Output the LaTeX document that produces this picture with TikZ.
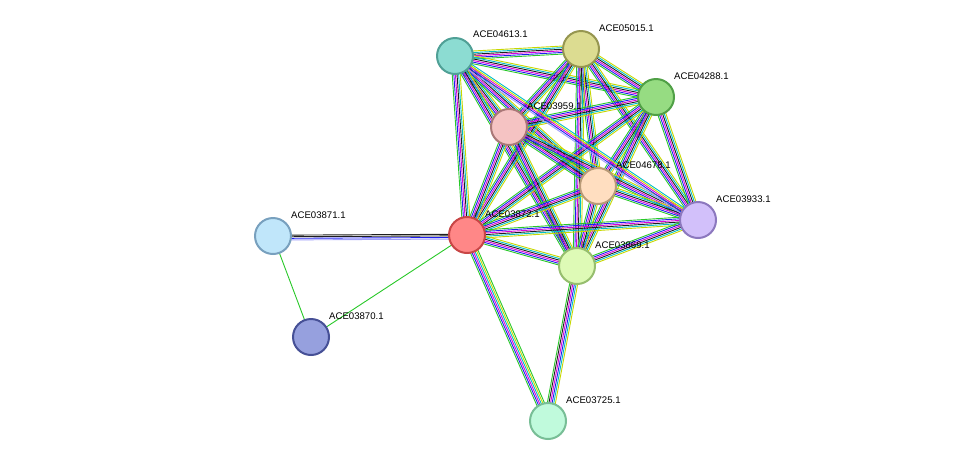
\documentclass[tikz,border=0pt]{standalone}
\usepackage{fontspec}
\setmainfont{Liberation Sans}
\usetikzlibrary{calc}
\definecolor{cNb}{RGB}{40,200,40}
\definecolor{cCo}{RGB}{30,30,240}
\definecolor{cEx}{RGB}{220,0,220}
\definecolor{cDb}{RGB}{0,190,200}
\definecolor{cTm}{RGB}{200,215,0}
\definecolor{cHo}{RGB}{160,160,250}
\definecolor{cCx}{RGB}{30,30,30}
\tikzset{
 prot/.style={circle,minimum size=36pt,inner sep=0pt,line width=2pt},
 lab/.style={anchor=west,font=\fontsize{9.6}{11}\selectfont,inner sep=0pt},
 eline/.style={line width=0.9pt}
}
\newcommand\bund[3]{%
 \foreach \cc [count=\i] in #3{%
  \pgfmathsetmacro\off{(\i-3.5)*1.6}%
  \draw[eline,\cc] ($(#1)!\off pt!90:(#2)$) -- ($(#2)!\off pt!-90:(#1)$);
 }}
\begin{document}
\begin{tikzpicture}[x=1pt,y=-1pt]
\useasboundingbox (0,0) rectangle (976,467);
\coordinate (a) at (455,56);
\coordinate (b) at (581,49);
\coordinate (c) at (656,97);
\coordinate (d) at (509,127);
\coordinate (e) at (598,186);
\coordinate (f) at (698,220);
\coordinate (g) at (467,235);
\coordinate (h) at (577,266);
\coordinate (i) at (273,236);
\coordinate (j) at (311,337);
\coordinate (k) at (548,421);
\def\lfull{cNb,cCo,cEx,cCx,cDb,cTm}
\def\laf{cHo,cCo,cEx,cTm,cDb}
\def\lgk{cNb,cCo,cEx,cDb,cTm,cNb}
\def\lhk{cNb,cCx,cEx,cCo,cDb,cTm}
\def\lig{cHo,cCo,cCx,cCx}
\foreach \p/\q in {a/b,a/c,a/d,a/e,a/g,a/h,b/c,b/d,b/e,b/f,b/g,b/h,c/d,c/e,c/f,c/g,c/h,d/e,d/f,d/g,d/h,e/f,e/g,e/h,f/g,f/h,g/h}{\bund{\p}{\q}{\lfull}}
\bund{a}{f}{\laf}
\bund{g}{k}{\lgk}
\bund{h}{k}{\lhk}
\bund{i}{g}{\lig}
\draw[eline,cNb] (i) -- (j);
\draw[eline,cNb] (j) -- (g);
\node[prot,fill={rgb,255:red,140;green,220;blue,210},draw={rgb,255:red,80;green,160;blue,150}] (na) at (a) {};
\node[prot,fill={rgb,255:red,220;green,220;blue,145},draw={rgb,255:red,150;green,150;blue,80}] (nb) at (b) {};
\node[prot,fill={rgb,255:red,150;green,220;blue,130},draw={rgb,255:red,80;green,160;blue,70}] (nc) at (c) {};
\node[prot,fill={rgb,255:red,245;green,195;blue,195},draw={rgb,255:red,170;green,120;blue,120}] (nd) at (d) {};
\node[prot,fill={rgb,255:red,255;green,222;blue,192},draw={rgb,255:red,185;green,155;blue,120}] (ne) at (e) {};
\node[prot,fill={rgb,255:red,210;green,192;blue,250},draw={rgb,255:red,140;green,120;blue,190}] (nf) at (f) {};
\node[prot,fill={rgb,255:red,255;green,135;blue,135},draw={rgb,255:red,200;green,70;blue,70}] (ng) at (g) {};
\node[prot,fill={rgb,255:red,222;green,250;blue,182},draw={rgb,255:red,150;green,190;blue,110}] (nh) at (h) {};
\node[prot,fill={rgb,255:red,192;green,230;blue,250},draw={rgb,255:red,120;green,160;blue,190}] (ni) at (i) {};
\node[prot,fill={rgb,255:red,150;green,160;blue,222},draw={rgb,255:red,70;green,80;blue,150}] (nj) at (j) {};
\node[prot,fill={rgb,255:red,192;green,250;blue,220},draw={rgb,255:red,120;green,190;blue,150}] (nk) at (k) {};
\node[lab] (la) at ($(a)+(18,-22)$) {ACE04613.1};
\node[lab] (lb) at ($(b)+(18,-21)$) {ACE05015.1};
\node[lab] (lc) at ($(c)+(18,-21)$) {ACE04288.1};
\node[lab] (ld) at ($(d)+(18,-21)$) {ACE03959.1};
\node[lab] (le) at ($(e)+(18,-21)$) {ACE04678.1};
\node[lab] (lf) at ($(f)+(18,-21)$) {ACE03933.1};
\node[lab] (lg) at ($(g)+(18,-21)$) {ACE03872.1};
\node[lab] (lh) at ($(h)+(18,-21)$) {ACE03869.1};
\node[lab] (li) at ($(i)+(18,-21)$) {ACE03871.1};
\node[lab] (lj) at ($(j)+(18,-21)$) {ACE03870.1};
\node[lab] (lk) at ($(k)+(18,-21)$) {ACE03725.1};
\end{tikzpicture}
\end{document}
